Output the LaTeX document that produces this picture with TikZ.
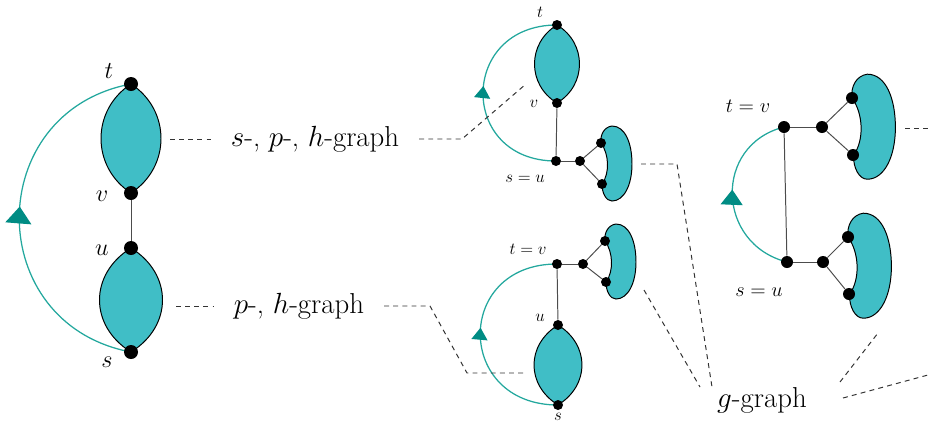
\documentclass[tikz,border=0pt]{standalone}
\usepackage{amsmath}
\usetikzlibrary{arrows.meta,decorations.markings,backgrounds}

\definecolor{lensfill}{RGB}{64,190,198}
\definecolor{arcteal}{RGB}{36,168,158}
\definecolor{tipteal}{RGB}{0,140,132}

\begin{document}
\begin{tikzpicture}[x=0.025cm, y=-0.025cm, >=Latex,
dotL/.style={circle, fill=black, inner sep=0pt, minimum size=3.5mm},
dotM/.style={circle, fill=black, inner sep=0pt, minimum size=2.5mm},
dotR/.style={circle, fill=black, inner sep=0pt, minimum size=3mm},
lens/.style={draw=black, line width=0.7pt, fill=lensfill},
edge/.style={draw=black!70, line width=0.7pt},
conn/.style={draw=black!80, line width=0.7pt, dash pattern=on 3.5pt off 3pt},
tealarc/.style 2 args={draw=arcteal, line width=0.9pt, postaction={decorate},
  decoration={markings, mark=at position 0.53 with {\arrow{Triangle[width=#1, length=#2, color=tipteal]}}}},
vlabL/.style={font=\fontsize{16}{18}\selectfont, inner sep=0pt},
vlabM/.style={font=\fontsize{12}{14}\selectfont, inner sep=0pt},
vlabR/.style={font=\fontsize{15}{17}\selectfont, inner sep=0pt},
glabel/.style={font=\fontsize{20.5}{22}\selectfont, inner xsep=14pt, inner ysep=2pt},
blob/.pic={\path[lens] (0,0) .. controls (-1,-8) and (3,-16) .. (11,-17) .. controls (24,-17) and (31,0) .. (31,21) .. controls (31,42) and (23,58) .. (11,58) .. controls (5,58) and (1,50) .. (1,41) .. controls (9,30) and (8,11) .. (0,0) -- cycle;}]
\useasboundingbox (0,0) rectangle (928,429);

% left: two lenses joined by an edge
\node[dotL] (tL) at (131,84) {};
\node[dotL] (vL) at (131,193) {};
\node[dotL] (uL) at (131,248) {};
\node[dotL] (sL) at (131,352) {};
\node[vlabL] (ltL) at (109,71) {$t$};
\node[vlabL] (lvL) at (102,196) {$v$};
\node[vlabL] (luL) at (102,250) {$u$};
\node[vlabL] (lsL) at (107,362) {$s$};
\begin{scope}[on background layer]
\path[lens] (tL.center) .. controls +(-40,26) and +(-40,-26) .. (vL.center) .. controls +(40,-26) and +(40,26) .. (tL.center) -- cycle;
\path[lens] (uL.center) .. controls +(-42,26) and +(-42,-26) .. (sL.center) .. controls +(42,-26) and +(42,26) .. (uL.center) -- cycle;
\draw[edge] (vL) -- (uL);
\draw[tealarc={6.5mm}{4.2mm}] (sL.center) .. controls +(-149,-28) and +(-149,28) .. (tL.center);
\end{scope}

% middle, top
\node[dotM] (tA) at (557,25) {};
\node[dotM] (vA) at (557,103) {};
\node[dotM] (sA) at (556,161) {};
\node[dotM] (kA) at (580,161) {};
\node[dotM] (pA) at (601,143) {};
\node[dotM] (qA) at (602,184) {};
\node[vlabM] (ltA) at (540,12) {$t$};
\node[vlabM] (lvA) at (534,104) {$v$};
\node[vlabM] (lsA) at (525,179) {$s=u$};
\begin{scope}[on background layer]
\path[lens] (tA.center) .. controls +(-30,18) and +(-30,-18) .. (vA.center) .. controls +(30,-18) and +(30,18) .. (tA.center) -- cycle;
\pic at (pA.center) {blob};
\draw[edge] (vA) -- (sA);
\draw[edge] (sA) -- (kA);
\draw[edge] (kA) -- (pA);
\draw[edge] (kA) -- (qA);
\draw[tealarc={4mm}{3mm}] (sA.center) .. controls +(-98,0) and +(-98,0) .. (tA.center);
\end{scope}

% middle, bottom
\node[dotM] (tB) at (557,264) {};
\node[dotM] (kB) at (583,264) {};
\node[dotM] (pB) at (605,241) {};
\node[dotM] (qB) at (606,282) {};
\node[dotM] (uB) at (558,325) {};
\node[dotM] (sB) at (558,405) {};
\node[vlabM] (ltB) at (528,249) {$t=v$};
\node[vlabM] (luB) at (540,318) {$u$};
\node[vlabM] (lsB) at (558,417) {$s$};
\begin{scope}[on background layer]
\path[lens] (uB.center) .. controls +(-32,20) and +(-32,-20) .. (sB.center) .. controls +(32,-20) and +(32,20) .. (uB.center) -- cycle;
\pic at (pB.center) {blob};
\draw[edge] (tB) -- (uB);
\draw[edge] (tB) -- (kB);
\draw[edge] (kB) -- (pB);
\draw[edge] (kB) -- (qB);
\draw[tealarc={4mm}{3mm}] (sB.center) .. controls +(-103,0) and +(-103,0) .. (tB.center);
\end{scope}

% right
\node[dotR] (tC) at (784,127) {};
\node[dotR] (kC1) at (822,127) {};
\node[dotR] (pC1) at (852,98) {};
\node[dotR] (qC1) at (853,155) {};
\node[dotR] (sC) at (787,262) {};
\node[dotR] (kC2) at (823,262) {};
\node[dotR] (pC2) at (848,237) {};
\node[dotR] (qC2) at (849,294) {};
\node[vlabR] (ltC) at (748,106) {$t=v$};
\node[vlabR] (lsC) at (759,292) {$s=u$};
\begin{scope}[on background layer]
\pic[scale=1.4] at (pC1.center) {blob};
\pic[scale=1.4] at (pC2.center) {blob};
\draw[edge] (tC) -- (sC);
\draw[edge] (tC) -- (kC1);
\draw[edge] (kC1) -- (pC1);
\draw[edge] (kC1) -- (qC1);
\draw[edge] (sC) -- (kC2);
\draw[edge] (kC2) -- (pC2);
\draw[edge] (kC2) -- (qC2);
\draw[tealarc={5.5mm}{3.8mm}] (sC.center) .. controls +(-71,-18) and +(-71,18) .. (tC.center);
\end{scope}

% labels and dashed links
\node[glabel] (lblSPH) at (315,139) {$s$-, $p$-, $h$-graph};
\node[glabel] (lblPH) at (299,306) {$p$-, $h$-graph};
\node[glabel] (lblG) at (762,400) {$g$-graph};
\coordinate (dL1) at (170,139);
\coordinate (dL2) at (176,306);
\coordinate (bA) at (462,139);
\coordinate (dA) at (526,84);
\coordinate (bB1) at (430,306);
\coordinate (bB2) at (467,373);
\coordinate (dB) at (523,373);
\coordinate (gA) at (641,164);
\coordinate (bG) at (677,164);
\coordinate (gL1) at (712,387);
\coordinate (gB) at (644,290);
\coordinate (gL2) at (700,387);
\coordinate (gR1) at (840,382);
\coordinate (gC) at (878,333);
\coordinate (gR2) at (843,398);
\coordinate (gE) at (928,375);
\coordinate (gF) at (905,128);
\coordinate (gG) at (928,128);
\draw[conn] (dL1) -- (lblSPH.west);
\draw[conn] (lblSPH.east) -- (bA) -- (dA);
\draw[conn] (dL2) -- (lblPH.west);
\draw[conn] (lblPH.east) -- (bB1) -- (bB2) -- (dB);
\draw[conn] (gA) -- (bG) -- (gL1);
\draw[conn] (gB) -- (gL2);
\draw[conn] (gR1) -- (gC);
\draw[conn] (gR2) -- (gE);
\draw[conn] (gF) -- (gG);
\end{tikzpicture}
\end{document}
